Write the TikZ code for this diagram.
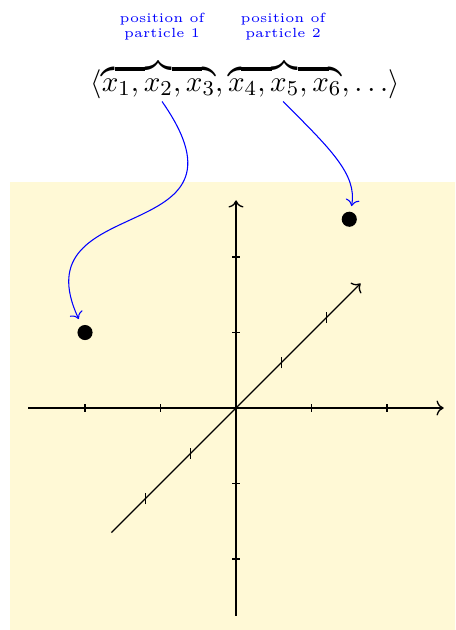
\documentclass[tikz,border=0pt]{standalone}
\usepackage{amsmath}
\usetikzlibrary{arrows.meta,positioning,calc}
\definecolor{paper}{RGB}{255,249,214}

\begin{document}
\begin{tikzpicture}[
  axis/.style={->,line width=0.5pt},
  tick/.style={line width=0.5pt},
  note/.style={blue,align=center,font=\fontsize{5}{5.6}\selectfont,inner sep=0pt},
  link/.style={->,blue,line width=0.4pt},
  dot/.style={circle,fill=black,inner sep=0pt,minimum size=2mm}
]
\clip (-3.126,-2.94) rectangle (2.901,5.404);
\fill[paper] (-3,-3) rectangle (3,3);
% coordinate axes
\draw[axis] (-2.75,0) -- (2.75,0);
\draw[axis] (0,-2.75) -- (0,2.75);
\draw[axis] (-1.65,-1.65) -- (1.65,1.65);
\foreach \t in {-2,-1,1,2} {
  \draw[tick] (\t,-0.05) -- (\t,0.05);
  \draw[tick] (-0.05,\t) -- (0.05,\t);
  \draw[tick] (0.6*\t,0.6*\t-0.075) -- (0.6*\t,0.6*\t+0.075);
}
% particles
\node[dot] (p1) at (-2,1) {};
\node[dot] (p2) at (1.5,2.5) {};
% the sequence
\node[font=\fontsize{11}{13}\selectfont,inner sep=1pt,anchor=base] (seq) at (0.12,4.198)
  {$\langle\overbrace{x_1,x_2,x_3},\overbrace{x_4,x_5,x_6},\ldots\rangle$};
\node[note] (lab1) at (-0.98,5.046) {position of\\particle 1};
\node[note] (lab2) at (0.623,5.046) {position of\\particle 2};
\draw[link,shorten >=0.09cm] (lab1 |- seq.south) .. controls +(-55:2.4) and +(115:2.1) .. (p1);
\draw[link,shorten >=0.07cm] (lab2 |- seq.south) .. controls +(-45:0.9) and +(80:0.6) .. (p2);
\end{tikzpicture}
\end{document}
